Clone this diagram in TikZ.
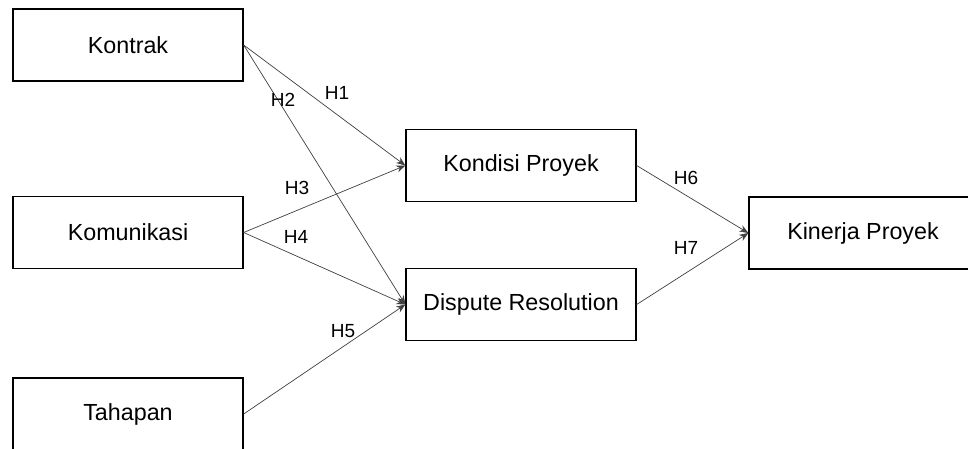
\documentclass[tikz,border=0pt]{standalone}
\usepackage{fontspec}
\setmainfont{Liberation Sans}
\usetikzlibrary{arrows.meta}
\tikzset{construct/.style={rectangle, draw, line width=1.3pt,
                           minimum width=230pt, minimum height=72pt,
                           inner sep=0pt, font=\fontsize{23.3}{27}\selectfont},
         path/.style={-{Stealth[length=9pt, width=7pt]}, draw=black!75,
                      line width=0.7pt},
         hyp/.style={inner sep=0pt, font=\fontsize{19}{22}\selectfont}}

\begin{document}
\begin{tikzpicture}[x=1pt, y=-1pt]
      \clip (0, 0) rectangle (968, 448);
      \fill[white] (0, 0) rectangle (968, 448);
      \draw node[construct] (kontrak) at (128, 45) {Kontrak};
      \draw node[construct] (komunikasi) at (128, 232.5) {Komunikasi};
      \draw node[construct] (tahapan) at (128, 414) {Tahapan};
      \draw node[construct] (kondisi) at (521, 165.5) {Kondisi Proyek};
      \draw node[construct] (dispute) at (521, 304.5) {Dispute Resolution};
      \draw node[construct, minimum width=250pt] (kinerja) at (874, 233) {};
      \node[font=\fontsize{23.3}{27}\selectfont] (kinerjatext) at (863, 233) {Kinerja Proyek};

      \draw[path] (kontrak.east) -- (kondisi.west);
      \draw[path] (kontrak.east) -- (dispute.west);
      \draw[path] (komunikasi.east) -- (kondisi.west);
      \draw[path] (komunikasi.east) -- (dispute.west);
      \draw[path] (tahapan.east) -- (dispute.west);
      \draw[path] (kondisi.east) -- (kinerja.west);
      \draw[path] (dispute.east) -- (kinerja.west);

      \node[hyp] (h1) at (337, 93) {H1};
      \node[hyp] (h2) at (283, 100) {H2};
      \node[hyp] (h3) at (297, 188) {H3};
      \node[hyp] (h4) at (296, 237) {H4};
      \node[hyp] (h5) at (343, 331) {H5};
      \node[hyp] (h6) at (686, 178) {H6};
      \node[hyp] (h7) at (686, 248) {H7};
    \end{tikzpicture}
\end{document}
